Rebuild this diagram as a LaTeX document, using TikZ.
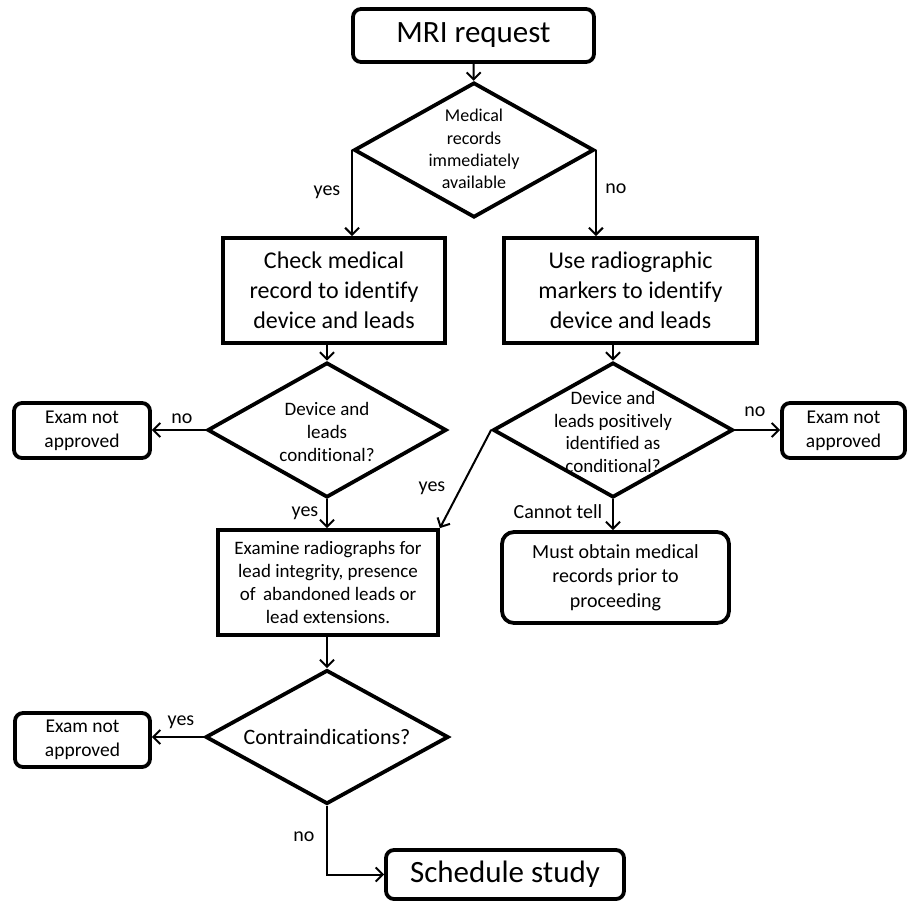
\documentclass[tikz,border=0pt]{standalone}
\usepackage{fontspec}
\setmainfont[Ligatures=CommonOff]{Carlito}
\usetikzlibrary{shapes.geometric,arrows.meta}
\tikzset{
  box/.style={draw, line width=3.8pt, inner sep=0pt, align=center},
  rbox/.style={box, rounded corners=8pt},
  dia/.style={draw, shape=diamond, line width=3.8pt, inner sep=0pt},
  dtext/.style={align=center, inner sep=0pt},
  arr/.style={line width=2pt, -{Straight Barb[length=7pt,width=14pt]}},
  lbl/.style={inner sep=0pt, font=\fontsize{20}{24}\selectfont},
}
\begin{document}
\begin{tikzpicture}[x=1pt,y=-1pt]
\useasboundingbox (0,0) rectangle (907,900);
% boxes
\node[rbox, minimum width=241pt, minimum height=53pt, font=\fontsize{31}{36}\selectfont] (mri) at (473.5,35.5) {MRI request};
\node[dia, minimum width=240pt, minimum height=135pt] (d1) at (474,150) {};
\node[dtext, font=\fontsize{18}{22.3}\selectfont] (d1t) at (474,149) {Medical\\records\\immediately\\available};
\node[box, minimum width=222pt, minimum height=105pt, font=\fontsize{24}{30}\selectfont] (b1) at (334,290.5) {Check medical\\record to identify\\device and leads};
\node[box, minimum width=253pt, minimum height=105pt, font=\fontsize{24}{30}\selectfont] (b2) at (630.5,290.5) {Use radiographic\\markers to identify\\device and leads};
\node[dia, minimum width=239pt, minimum height=135pt] (d2) at (327,430) {};
\node[dtext, font=\fontsize{19}{23}\selectfont] (d2t) at (327,432) {Device and\\leads\\conditional?};
\node[dia, minimum width=240pt, minimum height=135pt] (d3) at (613,430) {};
\node[dtext, font=\fontsize{19}{22.7}\selectfont] (d3t) at (613,432) {Device and\\leads positively\\identified as\\conditional?};
\node[rbox, minimum width=136pt, minimum height=55pt, font=\fontsize{19.5}{24}\selectfont] (e1) at (82,430.5) {Exam not\\approved};
\node[rbox, minimum width=123pt, minimum height=55pt, font=\fontsize{19.5}{24}\selectfont] (e2) at (843.5,430.5) {Exam not\\approved};
\node[box, minimum width=220pt, minimum height=105pt, font=\fontsize{19}{23.3}\selectfont] (ex) at (328,582.5) {Examine radiographs for\\lead integrity, presence\\of\, abandoned leads or\\lead extensions.};
\node[box, rounded corners=12pt, minimum width=227pt, minimum height=91pt, font=\fontsize{20}{24.5}\selectfont] (mo) at (615.5,577.5) {Must obtain medical\\records prior to\\proceeding};
\node[dia, minimum width=243pt, minimum height=134pt] (d4) at (327,737) {};
\node[dtext, font=\fontsize{22}{26}\selectfont] (d4t) at (327,737) {Contraindications?};
\node[rbox, minimum width=135pt, minimum height=54pt, font=\fontsize{19.5}{24}\selectfont] (e3) at (82.5,740) {Exam not\\approved};
\node[rbox, minimum width=238pt, minimum height=49pt, font=\fontsize{31}{36}\selectfont] (sc) at (505,874.5) {Schedule study};
% connectors
\draw[arr] (mri) -- (d1);
\draw[arr] (d1.west) -- (d1.west |- b1.north);
\draw[arr] (d1.east) -- (d1.east |- b2.north);
\draw[arr] (d2.north |- b1.south) -- (d2.north);
\draw[arr] (d3.north |- b2.south) -- (d3.north);
\draw[arr] (d2.west) -- (e1.east |- d2.west);
\draw[arr] (d3.east) -- (e2.west |- d3.east);
\draw[arr] (d2.south) -- (d2.south |- ex.north);
\draw[arr] (d3.west) -- (ex.north east);
\draw[arr] (d3.south) -- (d3.south |- mo.north);
\draw[arr] (d4.north |- ex.south) -- (d4.north);
\draw[arr] (d4.west) -- (e3.east |- d4.west);
\draw[arr] (d4.south) |- (sc.west);
% labels
\node[lbl] (l1) at (327,192) {yes};
\node[lbl] (l2) at (616,189) {no};
\node[lbl] (l3) at (182,419) {no};
\node[lbl] (l4) at (755,412) {no};
\node[lbl] (l5) at (305,513) {yes};
\node[lbl] (l6) at (432,488) {yes};
\node[lbl] (l7) at (558,512) {Cannot tell};
\node[lbl] (l8) at (181,722) {yes};
\node[lbl] (l9) at (304,837) {no};
\end{tikzpicture}
\end{document}
